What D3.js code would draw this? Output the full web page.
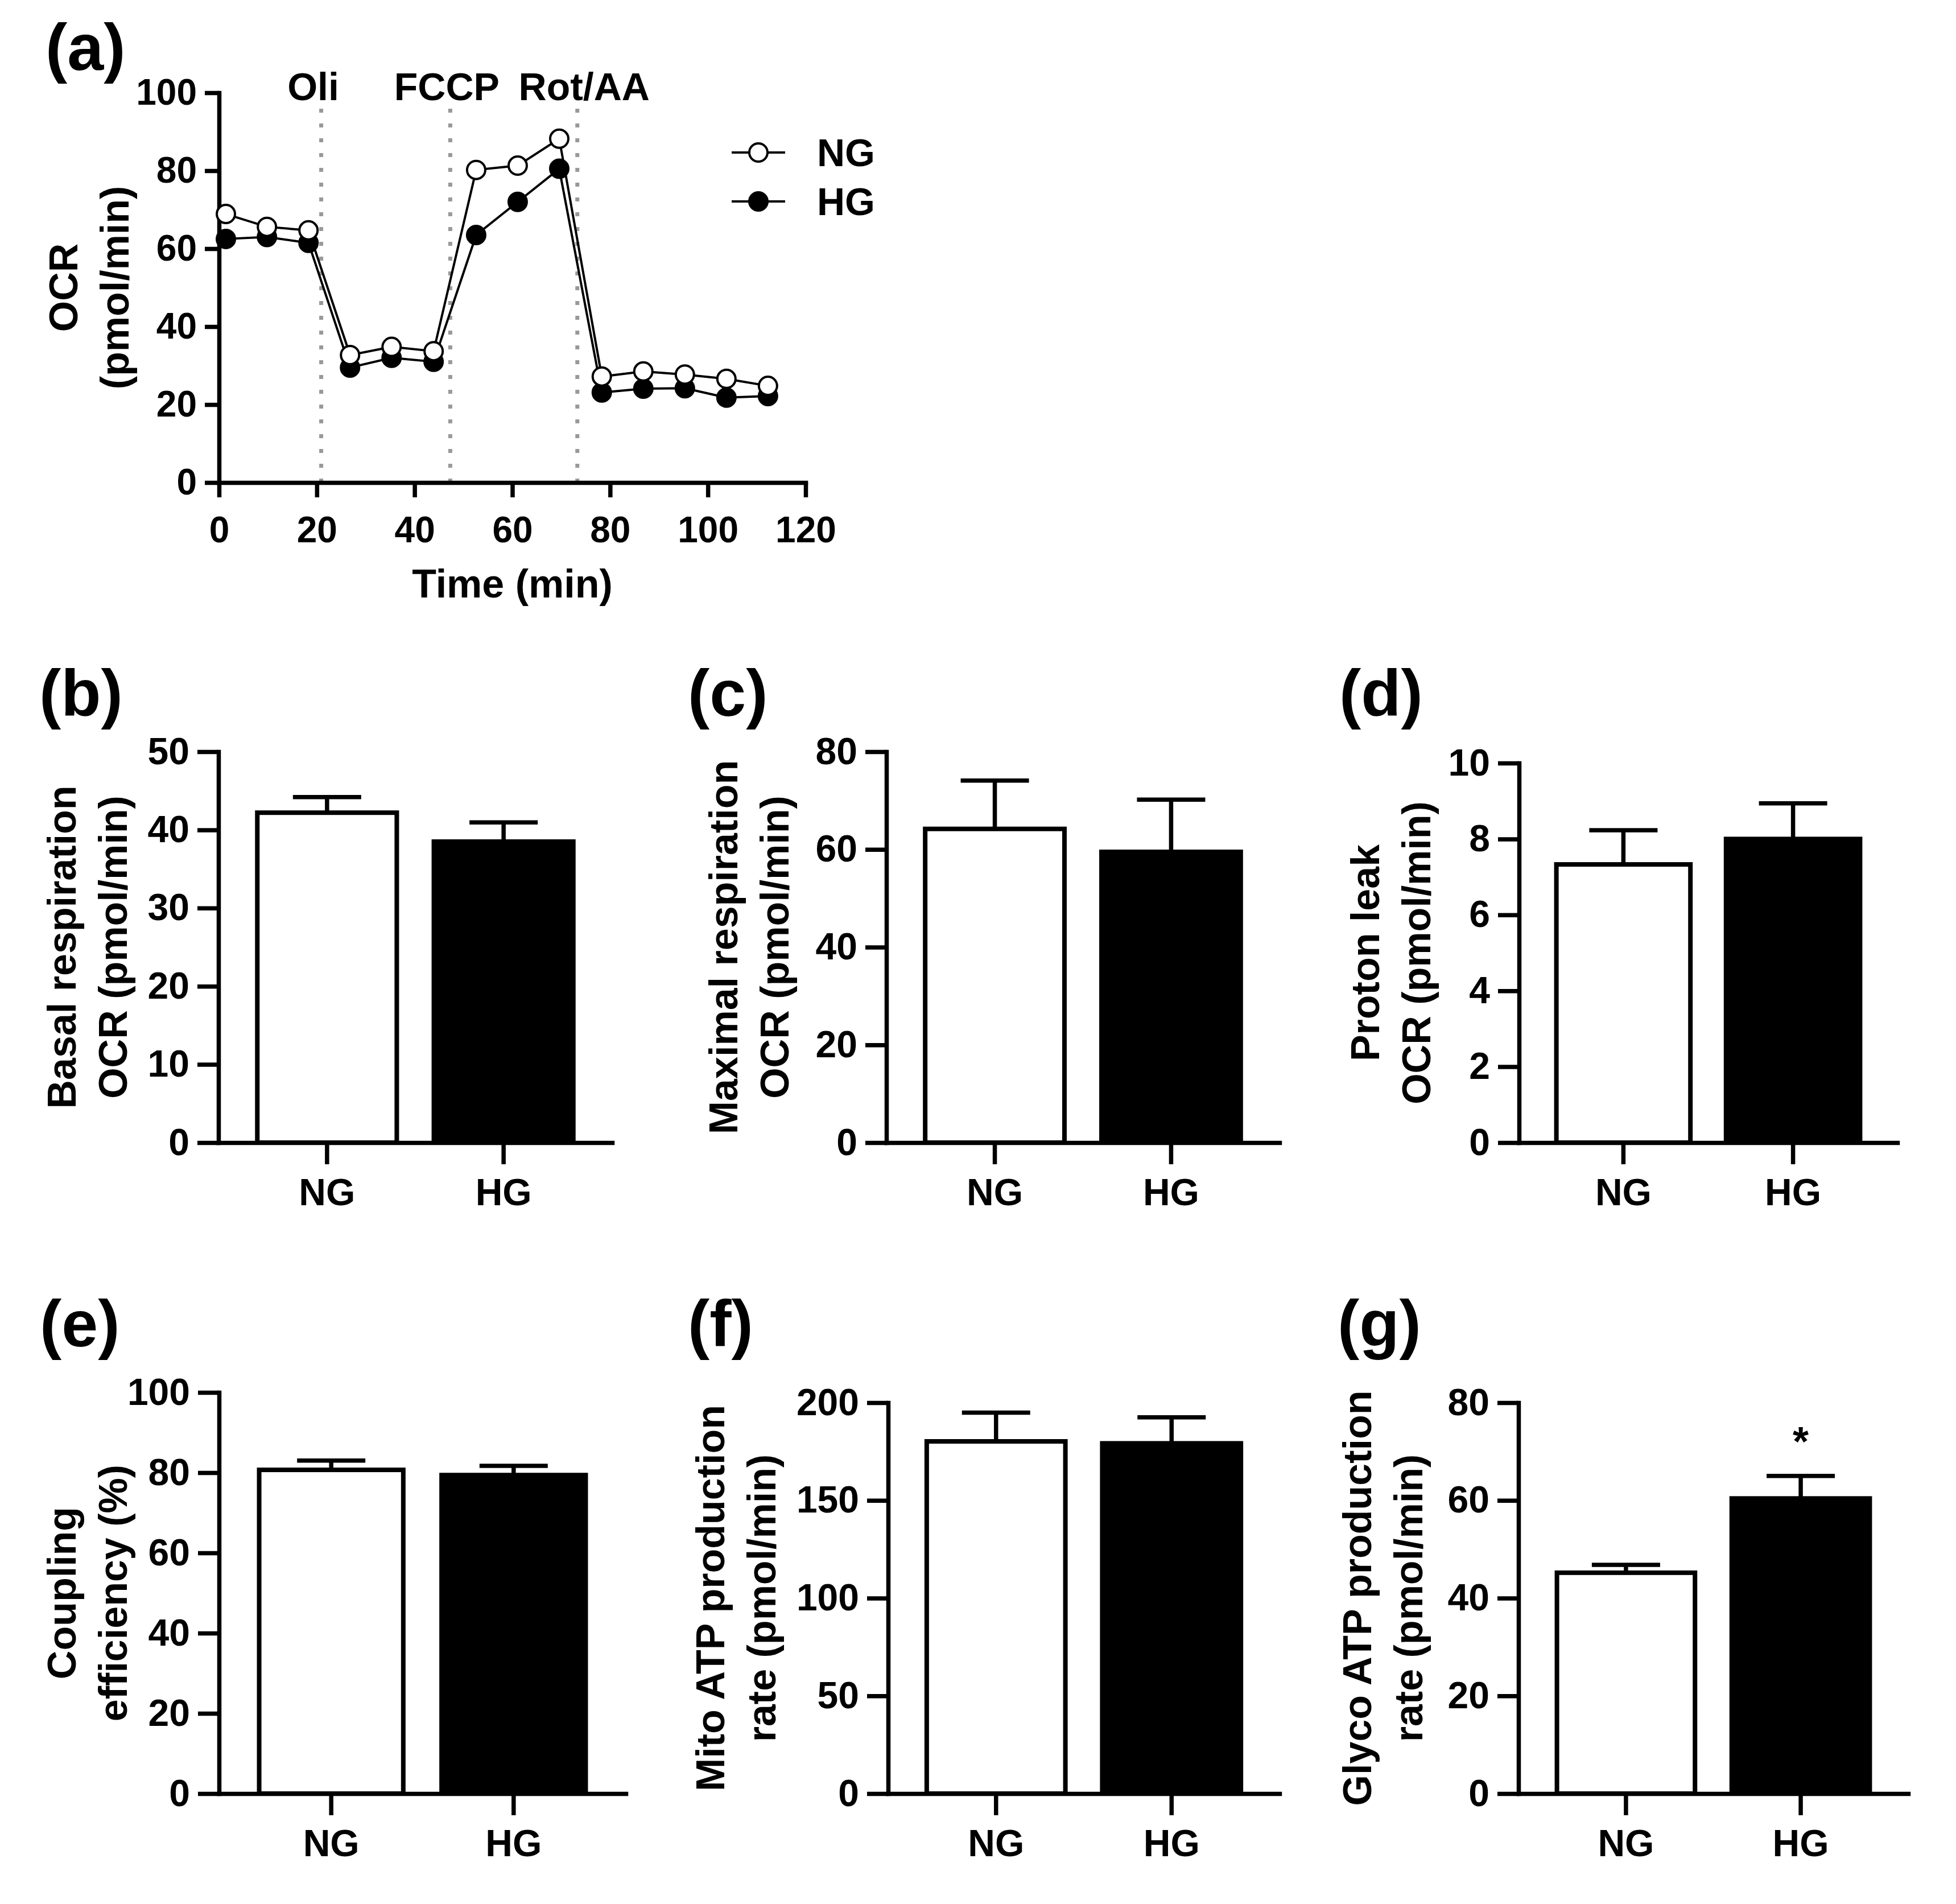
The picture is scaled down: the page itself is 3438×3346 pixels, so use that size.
<!DOCTYPE html>
<html>
<head>
<meta charset="utf-8">
<script src="https://cdn.jsdelivr.net/npm/d3@7"></script>
<style>
    body { margin: 0; background: #fff; }
    text { font-family: "Liberation Sans", Arial, sans-serif; font-weight: bold; fill: #000; }
</style>
</head>
<body>
<script>
// ---- data ----
const groups = ['NG', 'HG'];

// (a) OCR time course
const ocrTime = [1.4, 9.8, 18.3, 26.8, 35.3, 43.9, 52.6, 61.1, 69.6, 78.3, 86.8, 95.3, 103.8, 112.3];
const ocrNG = [68.9, 65.6, 64.7, 32.7, 34.8, 33.7, 80.2, 81.3, 88.2, 27.2, 28.5, 27.7, 26.6, 24.8];
const ocrHG = [62.5, 63.0, 61.5, 29.5, 32.0, 31.0, 63.5, 72.0, 80.5, 23.1, 24.1, 24.2, 21.8, 22.2];
const injectionTimes = [20.9, 47.3, 73.3];
const injectionLabels = ['Oli', 'FCCP', 'Rot/AA'];
const timeTicks = [0, 20, 40, 60, 80, 100, 120];
const ocrTicks = [0, 20, 40, 60, 80, 100];

// (b)-(g) bar panels: mean and SEM for NG, HG
const basalMean = [42.2, 38.5];
const basalSem = [2.0, 2.45];
const basalTicks = [0, 10, 20, 30, 40, 50];

const maximalMean = [64.2, 59.5];
const maximalSem = [9.9, 10.7];
const maximalTicks = [0, 20, 40, 60, 80];

const leakMean = [7.33, 8.0];
const leakSem = [0.9, 0.94];
const leakTicks = [0, 2, 4, 6, 8, 10];

const couplingMean = [80.7, 79.4];
const couplingSem = [2.3, 2.3];
const couplingTicks = [0, 20, 40, 60, 80, 100];

const mitoAtpMean = [180.2, 179.2];
const mitoAtpSem = [14.7, 13.3];
const mitoAtpTicks = [0, 50, 100, 150, 200];

const glycoAtpMean = [45.2, 60.4];
const glycoAtpSem = [1.6, 4.6];
const glycoAtpTicks = [0, 20, 40, 60, 80];
const glycoAtpStars = ['', '*'];

// ---- page layout ----
const W = 3438, H = 3346;
const LINE_W = 7.5;

const svg = d3.select('body')
    .append('svg')
    .attr('width', W)
    .attr('height', H);

svg.append('rect').attr('width', W).attr('height', H).attr('fill', '#fff');

const styleAxis = (g, fontSize) => {
    g.select('.domain')
        .attr('stroke', '#000')
        .attr('stroke-width', LINE_W)
        .attr('stroke-linecap', 'square');
    g.selectAll('.tick line')
        .attr('stroke', '#000')
        .attr('stroke-width', LINE_W);
    g.selectAll('.tick text')
        .attr('fill', '#000')
        .style('font-size', fontSize + 'px')
        .style('font-family', '"Liberation Sans", Arial, sans-serif')
        .style('font-weight', 'bold');
}

const panelLetter = (letter, x, y) => {
    svg.append('text')
        .attr('x', x)
        .attr('y', y)
        .style('font-size', '115px')
        .text(`(${letter})`);
}

const yTitle = (lines, x, yMid, fontSize) => {
    // lines[last] sits at x, earlier lines further left
    lines.forEach((line, i) => {
        const lx = x - (lines.length - 1 - i) * 90;
        svg.append('text')
            .attr('transform', `translate(${lx}, ${yMid}) rotate(-90)`)
            .attr('text-anchor', 'middle')
            .style('font-size', fontSize + 'px')
            .text(line);
    });
}

// ---- (a) OCR time course ----
const lineBox = { left: 385, right: 1416, top: 163, bottom: 848 };

const xTime = d3.scaleLinear().domain([0, 120]).range([lineBox.left, lineBox.right]);
const yOcr = d3.scaleLinear().domain([0, 100]).range([lineBox.bottom, lineBox.top]);

panelLetter('a', 80, 123);

// injection markers
const inj = svg.append('g');
inj.selectAll('line')
    .data(injectionTimes)
    .enter()
    .append('line')
    .attr('x1', d => xTime(d))
    .attr('x2', d => xTime(d))
    .attr('y1', yOcr(0))
    .attr('y2', yOcr(96.5))
    .attr('stroke', '#999')
    .attr('stroke-width', 7)
    .attr('stroke-dasharray', '7 19');

const labelShift = [-14, -6, 12];
inj.selectAll('text')
    .data(injectionLabels)
    .enter()
    .append('text')
    .attr('x', (d, i) => xTime(injectionTimes[i]) + labelShift[i])
    .attr('y', 176)
    .attr('text-anchor', 'middle')
    .style('font-size', '68px')
    .text(d => d);

const xAxisA = svg.append('g')
    .attr('transform', `translate(0, ${lineBox.bottom})`)
    .call(d3.axisBottom(xTime).tickValues(timeTicks).tickSize(26).tickPadding(34).tickSizeOuter(0));
styleAxis(xAxisA, 64);

const yAxisA = svg.append('g')
    .attr('transform', `translate(${lineBox.left}, 0)`)
    .call(d3.axisLeft(yOcr).tickValues(ocrTicks).tickSize(25).tickPadding(14).tickSizeOuter(0));
styleAxis(yAxisA, 64);

svg.append('text')
    .attr('x', (lineBox.left + lineBox.right) / 2)
    .attr('y', 1050)
    .attr('text-anchor', 'middle')
    .style('font-size', '70px')
    .text('Time (min)');

yTitle(['OCR', '(pmol/min)'], lineBox.left - 159, (lineBox.top + lineBox.bottom) / 2, 70);

const ocrLine = d3.line()
    .x((d, i) => xTime(ocrTime[i]))
    .y(d => yOcr(d));

const series = [
    { name: 'HG', values: ocrHG, fill: '#000' },
    { name: 'NG', values: ocrNG, fill: '#fff' }
];

series.forEach(s => {
    const g = svg.append('g');
    g.append('path')
        .attr('d', ocrLine(s.values))
        .attr('fill', 'none')
        .attr('stroke', '#000')
        .attr('stroke-width', 4);
    g.selectAll('circle')
        .data(s.values)
        .enter()
        .append('circle')
        .attr('cx', (d, i) => xTime(ocrTime[i]))
        .attr('cy', d => yOcr(d))
        .attr('r', 16)
        .attr('fill', s.fill)
        .attr('stroke', '#000')
        .attr('stroke-width', 4);
});

// legend
const legend = svg.append('g');
const legendRows = [
    { name: 'NG', fill: '#fff', y: 268 },
    { name: 'HG', fill: '#000', y: 354 }
];
legendRows.forEach(r => {
    legend.append('line')
        .attr('x1', 1286).attr('x2', 1380)
        .attr('y1', r.y).attr('y2', r.y)
        .attr('stroke', '#000')
        .attr('stroke-width', 4);
    legend.append('circle')
        .attr('cx', 1333).attr('cy', r.y)
        .attr('r', 16)
        .attr('fill', r.fill)
        .attr('stroke', '#000')
        .attr('stroke-width', 4);
    legend.append('text')
        .attr('x', 1436)
        .attr('y', r.y + 24)
        .style('font-size', '68px')
        .text(r.name);
});

// ---- (b)-(g) bar panels ----
const barPanels = [
    { letter: 'b', mean: basalMean, sem: basalSem, ticks: basalTicks, title: ['Basal respiration', 'OCR (pmol/min)'] },
    { letter: 'c', mean: maximalMean, sem: maximalSem, ticks: maximalTicks, title: ['Maximal respiration', 'OCR (pmol/min)'] },
    { letter: 'd', mean: leakMean, sem: leakSem, ticks: leakTicks, title: ['Proton leak', 'OCR (pmol/min)'] },
    { letter: 'e', mean: couplingMean, sem: couplingSem, ticks: couplingTicks, title: ['Coupling', 'efficiency (%)'] },
    { letter: 'f', mean: mitoAtpMean, sem: mitoAtpSem, ticks: mitoAtpTicks, title: ['Mito ATP production', 'rate (pmol/min)'] },
    { letter: 'g', mean: glycoAtpMean, sem: glycoAtpSem, ticks: glycoAtpTicks, title: ['Glyco ATP production', 'rate (pmol/min)'], stars: glycoAtpStars }
];

const barBoxes = {
    b: { left: 384, right: 1076, top: 1321, bottom: 2008, titleOffset: 161, lx: 69, ly: 1258 },
    c: { left: 1558, right: 2249, top: 1321, bottom: 2008, titleOffset: 172, lx: 1209, ly: 1258 },
    d: { left: 2670, right: 3335, top: 1341, bottom: 2008, titleOffset: 156, lx: 2354, ly: 1258 },
    e: { left: 385, right: 1100, top: 2447, bottom: 3152, titleOffset: 162, lx: 70, ly: 2366 },
    f: { left: 1561, right: 2249, top: 2465, bottom: 3152, titleOffset: 198, lx: 1209, ly: 2366 },
    g: { left: 2669, right: 3354, top: 2465, bottom: 3152, titleOffset: 169, lx: 2351, ly: 2366 }
};

const barFill = { NG: '#fff', HG: '#000' };
const CAP_HALF = 60;

barPanels.forEach(p => {
    const box = barBoxes[p.letter];
    const data = groups.map((g, i) => ({ group: g, mean: p.mean[i], sem: p.sem[i], star: p.stars ? p.stars[i] : '' }));

    const x = d3.scaleBand()
        .domain(groups)
        .range([box.left, box.right])
        .paddingInner(0.21)
        .paddingOuter(0.22);

    const y = d3.scaleLinear()
        .domain([0, d3.max(p.ticks)])
        .range([box.bottom, box.top]);

    panelLetter(p.letter, box.lx, box.ly);

    const g = svg.append('g');

    // error bars (upper only)
    const err = g.selectAll('.err')
        .data(data)
        .enter()
        .append('g')
        .attr('class', 'err');
    err.append('line')
        .attr('x1', d => x(d.group) + x.bandwidth() / 2)
        .attr('x2', d => x(d.group) + x.bandwidth() / 2)
        .attr('y1', d => y(d.mean))
        .attr('y2', d => y(d.mean + d.sem))
        .attr('stroke', '#000')
        .attr('stroke-width', LINE_W);
    err.append('line')
        .attr('x1', d => x(d.group) + x.bandwidth() / 2 - CAP_HALF)
        .attr('x2', d => x(d.group) + x.bandwidth() / 2 + CAP_HALF)
        .attr('y1', d => y(d.mean + d.sem))
        .attr('y2', d => y(d.mean + d.sem))
        .attr('stroke', '#000')
        .attr('stroke-width', LINE_W);

    g.selectAll('rect')
        .data(data)
        .enter()
        .append('rect')
        .attr('x', d => x(d.group))
        .attr('width', x.bandwidth())
        .attr('y', d => y(d.mean))
        .attr('height', d => y(0) - y(d.mean))
        .attr('fill', d => barFill[d.group])
        .attr('stroke', '#000')
        .attr('stroke-width', 8);

    g.selectAll('.star')
        .data(data.filter(d => d.star))
        .enter()
        .append('text')
        .attr('class', 'star')
        .attr('x', d => x(d.group) + x.bandwidth() / 2)
        .attr('y', d => y(d.mean + d.sem) - 36)
        .attr('text-anchor', 'middle')
        .style('font-size', '72px')
        .text(d => d.star);

    const xAxis = svg.append('g')
        .attr('transform', `translate(0, ${box.bottom})`)
        .call(d3.axisBottom(x).tickSize(38).tickPadding(25).tickSizeOuter(0));
    styleAxis(xAxis, 66);

    const yAxis = svg.append('g')
        .attr('transform', `translate(${box.left}, 0)`)
        .call(d3.axisLeft(y).tickValues(p.ticks).tickSize(37).tickPadding(14).tickSizeOuter(0));
    styleAxis(yAxis, 66);

    yTitle(p.title, box.left - box.titleOffset, (box.top + box.bottom) / 2, 70);
});
</script>
</body>
</html>
